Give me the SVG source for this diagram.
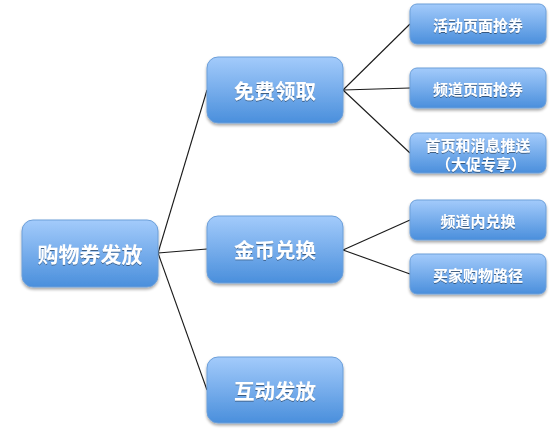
<svg xmlns="http://www.w3.org/2000/svg" width="558" height="429" viewBox="0 0 558 429">
<defs>
<linearGradient id="g" x1="0" y1="0" x2="0" y2="1">
<stop offset="0" stop-color="#a3cbfb"/>
<stop offset="1" stop-color="#4a8fdc"/>
</linearGradient>
<filter id="sh" x="-10%" y="-10%" width="120%" height="130%">
<feGaussianBlur in="SourceAlpha" stdDeviation="1.5"/>
<feOffset dx="0" dy="2" result="b"/>
<feComponentTransfer><feFuncA type="linear" slope="0.35"/></feComponentTransfer>
<feMerge><feMergeNode/><feMergeNode in="SourceGraphic"/></feMerge>
</filter>
<filter id="ts" x="-10%" y="-20%" width="120%" height="140%">
<feGaussianBlur in="SourceAlpha" stdDeviation="0.6"/>
<feOffset dx="0" dy="1"/>
<feComponentTransfer><feFuncA type="linear" slope="0.45"/></feComponentTransfer>
<feMerge><feMergeNode/><feMergeNode in="SourceGraphic"/></feMerge>
</filter>
</defs>
<style>
.box{fill:url(#g);stroke:#6c9fd9;stroke-width:1;filter:url(#sh)}
text{fill:#ffffff;font-family:"Noto Sans CJK SC","Noto Sans",sans-serif;font-weight:bold;text-anchor:middle;dominant-baseline:central;filter:url(#ts)}
.t1{font-size:21px}
.t2{font-size:20.5px}
.t3{font-size:15px}
.ln{stroke:#1a1a1a;stroke-width:1.1;fill:none}
</style>
<rect width="558" height="429" fill="#ffffff"/>
<g id="connectors">
<line class="ln" x1="158" y1="253" x2="207" y2="90"/>
<line class="ln" x1="158" y1="253" x2="207" y2="249"/>
<line class="ln" x1="158" y1="253" x2="207" y2="390"/>
<line class="ln" x1="343" y1="90" x2="410" y2="24"/>
<line class="ln" x1="343" y1="90" x2="410" y2="88"/>
<line class="ln" x1="343" y1="90" x2="410" y2="153"/>
<line class="ln" x1="343" y1="250" x2="410" y2="220"/>
<line class="ln" x1="343" y1="250" x2="410" y2="274"/>
</g>
<g id="root">
<rect class="box" x="22" y="220" width="136" height="67" rx="11"/>
<text class="t1" x="90" y="253">购物券发放</text>
</g>
<g id="free">
<rect class="box" x="207" y="57" width="136" height="66" rx="11"/>
<text class="t2" x="275" y="90">免费领取</text>
</g>
<g id="coin">
<rect class="box" x="207" y="216" width="136" height="67" rx="11"/>
<text class="t2" x="275" y="249">金币兑换</text>
</g>
<g id="interact">
<rect class="box" x="207" y="357" width="136" height="66" rx="11"/>
<text class="t2" x="275" y="390">互动发放</text>
</g>
<g id="n1">
<rect class="box" x="410" y="4" width="136" height="40" rx="7"/>
<text class="t3" x="478" y="24">活动页面抢券</text>
</g>
<g id="n2">
<rect class="box" x="410" y="68" width="136" height="40" rx="7"/>
<text class="t3" x="478" y="88">频道页面抢券</text>
</g>
<g id="n3">
<rect class="box" x="410" y="133" width="136" height="40" rx="7"/>
<text class="t3" x="478" y="144">首页和消息推送</text>
<text class="t3" x="481" y="163">（大促专享）</text>
</g>
<g id="n4">
<rect class="box" x="410" y="200" width="136" height="40" rx="7"/>
<text class="t3" x="478" y="220">频道内兑换</text>
</g>
<g id="n5">
<rect class="box" x="410" y="254" width="136" height="40" rx="7"/>
<text class="t3" x="478" y="274">买家购物路径</text>
</g>
</svg>
